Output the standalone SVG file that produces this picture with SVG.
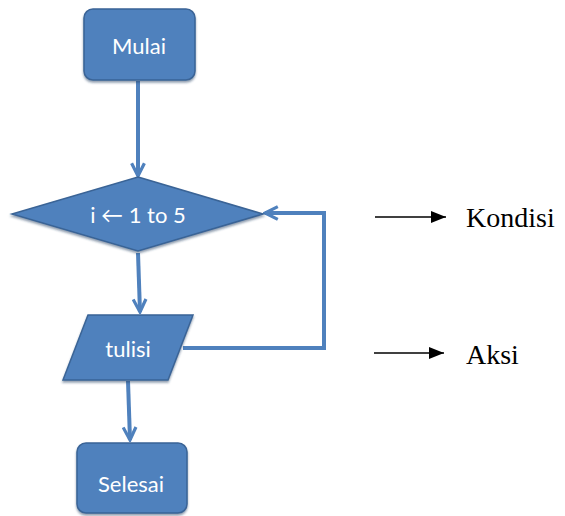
<svg xmlns="http://www.w3.org/2000/svg" width="565" height="516" viewBox="0 0 565 516">
  <style>
    .shape { fill: #4F81BD; stroke: #3A6496; stroke-width: 1.5; filter: url(#shadow); }
    .label { fill: #FFFFFF; font-family: Lato, "Liberation Sans", sans-serif; font-size: 22px; text-anchor: middle; dominant-baseline: central; }
    .flow { fill: none; stroke: #4F81BD; stroke-width: 4; stroke-linejoin: miter; marker-end: url(#openArrow); }
    .note { fill: none; stroke: #000000; stroke-width: 1.5; marker-end: url(#solidArrow); }
    .notelabel { fill: #000000; font-family: "Liberation Serif", serif; font-size: 28px; }
  </style>
  <defs>
    <filter id="shadow" x="-10%" y="-10%" width="120%" height="130%">
      <feDropShadow dx="0" dy="2" stdDeviation="1" flood-color="#1F3A5F" flood-opacity="0.5"/>
    </filter>
    <marker id="openArrow" viewBox="0 0 10 10" refX="9" refY="5" markerWidth="4" markerHeight="4" orient="auto" markerUnits="strokeWidth">
      <path d="M1,1 L9,5 L1,9" fill="none" stroke="#4F81BD" stroke-width="2"/>
    </marker>
    <marker id="solidArrow" viewBox="0 0 10 10" refX="10" refY="5" markerWidth="15" markerHeight="12" preserveAspectRatio="none" orient="auto" markerUnits="userSpaceOnUse">
      <path d="M0,0 L10,5 L0,10 Z" fill="#000000"/>
    </marker>
  </defs>

  <!-- connectors -->
  <g id="connectors">
    <path class="flow" d="M138,81 L138,176"/>
    <path class="flow" d="M138,253 L140,312"/>
    <path class="flow" d="M128,381 L130,440"/>
    <path class="flow" d="M183,348 L324,348 L324,213 L265,213"/>
  </g>

  <!-- start -->
  <g id="mulai">
    <rect class="shape" x="84" y="9" width="111" height="71" rx="9"/>
    <text class="label" x="139" y="45">Mulai</text>
  </g>

  <!-- loop condition -->
  <g id="kondisi-loop">
    <polygon class="shape" points="138,177 263,214 138,251 12,214"/>
    <text class="label" x="138" y="214">i ← 1 to 5</text>
  </g>

  <!-- output -->
  <g id="tulis">
    <polygon class="shape" points="88,315 193,315 168,380 63,380"/>
    <text class="label" x="128" y="348">tulisi</text>
  </g>

  <!-- end -->
  <g id="selesai">
    <rect class="shape" x="77" y="443" width="110" height="70" rx="9"/>
    <text class="label" x="131" y="483">Selesai</text>
  </g>

  <!-- legend -->
  <g id="legend-kondisi">
    <line class="note" x1="375" y1="217" x2="446" y2="217"/>
    <text class="notelabel" x="466" y="227">Kondisi</text>
  </g>
  <g id="legend-aksi">
    <line class="note" x1="374" y1="353" x2="444" y2="353"/>
    <text class="notelabel" x="466" y="364">Aksi</text>
  </g>
</svg>
